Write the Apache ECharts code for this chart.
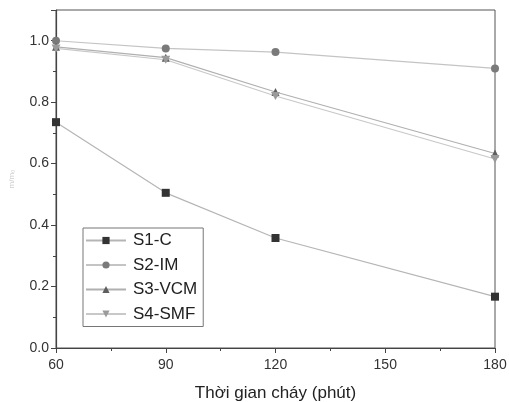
<!DOCTYPE html>
<html><head><meta charset="utf-8">
<script src="https://cdn.jsdelivr.net/npm/echarts@6/dist/echarts.min.js"></script>
<style>html,body{margin:0;padding:0;background:#fff}#c{width:509px;height:402px}</style>
</head><body><div id="c"></div>
<script>
const xValues = [60, 90, 120, 180];
const s1 = [0.735, 0.505, 0.358, 0.167];
const s2 = [1.0, 0.975, 0.963, 0.91];
const s3 = [0.98, 0.945, 0.833, 0.633];
const s4 = [0.975, 0.938, 0.82, 0.615];
const names = ['S1-C', 'S2-IM', 'S3-VCM', 'S4-SMF'];
const symbols = ['rect', 'circle', 'triangle', 'path://M0,0 L10,0 L5,9 Z'];
const markerColors = ['#333333', '#7a7a7a', '#5e5e5e', '#9a9a9a'];
const lineColors = ['#b5b5b5', '#c4c4c4', '#b0b0b0', '#c8c8c8'];
const allData = [s1, s2, s3, s4];

const chart = echarts.init(document.getElementById('c'));
const font = 'Liberation Sans, Arial, sans-serif';
chart.setOption({
  animation: false,
  grid: { left: 56, right: 14, top: 10, bottom: 54, show: true, borderColor: '#555', borderWidth: 1,
    outerBoundsMode: 'none', containLabel: false },
  xAxis: {
    type: 'value', min: 60, max: 180, interval: 30,
    name: 'Thời gian cháy (phút)', nameLocation: 'middle', nameGap: 37,
    nameTextStyle: { fontSize: 17, color: '#222', fontFamily: font },
    axisLine: { lineStyle: { color: '#444', width: 1.2 } },
    axisTick: { length: 5, lineStyle: { color: '#444' } },
    minorTick: { show: true, splitNumber: 2, length: 3, lineStyle: { color: '#444' } },
    splitLine: { show: false },
    axisLabel: { fontSize: 14, color: '#333', fontFamily: font, margin: 10 }
  },
  yAxis: {
    type: 'value', min: 0, max: 1.1, interval: 0.2,
    name: 'm/m₀', nameLocation: 'middle', nameGap: 40, nameRotate: 90,
    nameTextStyle: { fontSize: 8, color: '#cfcfcf', fontFamily: font },
    axisLine: { lineStyle: { color: '#444', width: 1.2 } },
    axisTick: { length: 5, lineStyle: { color: '#444' } },
    minorTick: { show: true, splitNumber: 2, length: 3, lineStyle: { color: '#444' } },
    splitLine: { show: false },
    axisLabel: { fontSize: 14, color: '#333', fontFamily: font, margin: 7, showMaxLabel: false,
      formatter: v => v > 1.05 ? '' : v.toFixed(1) }
  },
  legend: {
    orient: 'vertical', left: 83, top: 228,
    data: names,
    borderColor: '#777', borderWidth: 1, padding: [4, 6, 4, 2],
    itemWidth: 40, itemHeight: 9, itemGap: 7.5,
    textStyle: { fontSize: 17, color: '#222', fontFamily: font, padding: [0, 0, 0, 2] }
  },
  series: allData.map((d, i) => ({
    name: names[i], type: 'line',
    data: xValues.map((x, j) => [x, d[j]]),
    symbol: symbols[i], symbolSize: i === 3 ? [9, 8] : 8,
    showAllSymbol: true, clip: false,
    itemStyle: { color: markerColors[i] },
    lineStyle: { color: lineColors[i], width: 1.2 }
  }))
});
</script></body></html>
